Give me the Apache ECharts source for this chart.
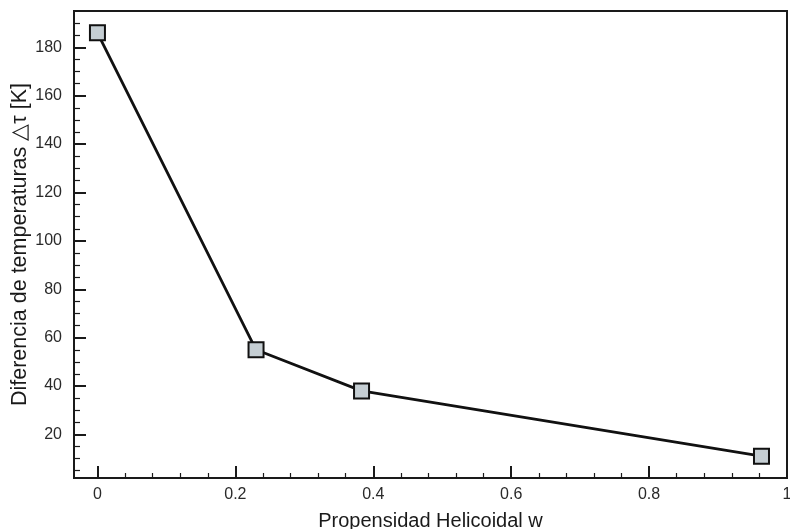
<!DOCTYPE html>
<html>
<head>
<meta charset="utf-8">
<script src="https://cdn.jsdelivr.net/npm/echarts@6/dist/echarts.min.js"></script>
<style>
  html, body { margin: 0; padding: 0; background: #fff; }
  #chart { width: 790px; height: 529px; }
</style>
</head>
<body>
<div id="chart"></div>
<script>
// Helical propensity vs. temperature difference
const propensity = [0, 0.23, 0.383, 0.963];
const deltaT = [186, 55, 38, 11];

const xMajorTicks = [0, 0.2, 0.4, 0.6, 0.8, 1];
const xMinorTicks = [0.04, 0.08, 0.12, 0.16, 0.24, 0.28, 0.32, 0.36, 0.44, 0.48, 0.52, 0.56,
                     0.64, 0.68, 0.72, 0.76, 0.84, 0.88, 0.92, 0.96];
const yMajorTicks = [20, 40, 60, 80, 100, 120, 140, 160, 180];
const yMinorTicks = [5, 10, 15, 25, 30, 35, 45, 50, 55, 65, 70, 75, 85, 90, 95, 105, 110, 115,
                     125, 130, 135, 145, 150, 155, 165, 170, 175, 185, 190];

const X_MIN = -0.034, X_MAX = 1.0;
const Y_MIN = 2, Y_MAX = 195;

const font = 'Liberation Sans, Arial, Helvetica, sans-serif';
const ink = '#1a1a1a';

const chart = echarts.init(document.getElementById('chart'), null, { renderer: 'canvas' });

chart.setOption({
  animation: false,
  backgroundColor: '#ffffff',
  grid: {
    left: 74, right: 3, top: 11, bottom: 51,
    outerBoundsMode: 'none',
    containLabel: false,
    show: true, borderColor: ink, borderWidth: 2, backgroundColor: 'transparent'
  },
  xAxis: [
    {
      type: 'value', min: X_MIN, max: X_MAX,
      name: 'Propensidad Helicoidal w', nameLocation: 'middle', nameGap: 33,
      nameMoveOverlap: false,
      nameTextStyle: { fontFamily: font, fontSize: 20, color: ink },
      axisLine: { show: true, onZero: false, lineStyle: { color: ink, width: 2 } },
      axisTick: { show: true, inside: true, length: 12, lineStyle: { color: ink, width: 2 },
                  customValues: xMajorTicks },
      axisLabel: { show: true, fontFamily: font, fontSize: 16, color: '#2a2a2a', margin: 9,
                   customValues: xMajorTicks,
                   formatter: v => String(+v.toFixed(2)) },
      splitLine: { show: false }
    },
    {
      type: 'value', min: X_MIN, max: X_MAX, position: 'bottom',
      axisLine: { show: false, onZero: false },
      axisTick: { show: true, inside: true, length: 5, lineStyle: { color: ink, width: 1.2 },
                  customValues: xMinorTicks },
      axisLabel: { show: false },
      splitLine: { show: false }
    }
  ],
  yAxis: [
    {
      type: 'value', min: Y_MIN, max: Y_MAX,
      name: 'Diferencia de temperaturas △τ [K]', nameLocation: 'middle', nameGap: 43,
      nameMoveOverlap: false,
      nameTextStyle: { fontFamily: font, fontSize: 21.5, color: ink },
      axisLine: { show: true, onZero: false, lineStyle: { color: ink, width: 2 } },
      axisTick: { show: true, inside: true, length: 12, lineStyle: { color: ink, width: 2 },
                  customValues: yMajorTicks },
      axisLabel: { show: true, fontFamily: font, fontSize: 16, color: '#2a2a2a', margin: 12,
                   customValues: yMajorTicks },
      splitLine: { show: false }
    },
    {
      type: 'value', min: Y_MIN, max: Y_MAX, position: 'left',
      axisLine: { show: false, onZero: false },
      axisTick: { show: true, inside: true, length: 6, lineStyle: { color: ink, width: 1.2 },
                  customValues: yMinorTicks },
      axisLabel: { show: false },
      splitLine: { show: false }
    }
  ],
  series: [{
    type: 'line',
    xAxisIndex: 0, yAxisIndex: 0,
    data: propensity.map((x, i) => [x, deltaT[i]]),
    symbol: 'rect', symbolSize: 15,
    lineStyle: { color: '#111', width: 2.8 },
    itemStyle: { color: '#c5ced3', borderColor: '#111', borderWidth: 2 },
    z: 3
  }]
});
</script>
</body>
</html>
